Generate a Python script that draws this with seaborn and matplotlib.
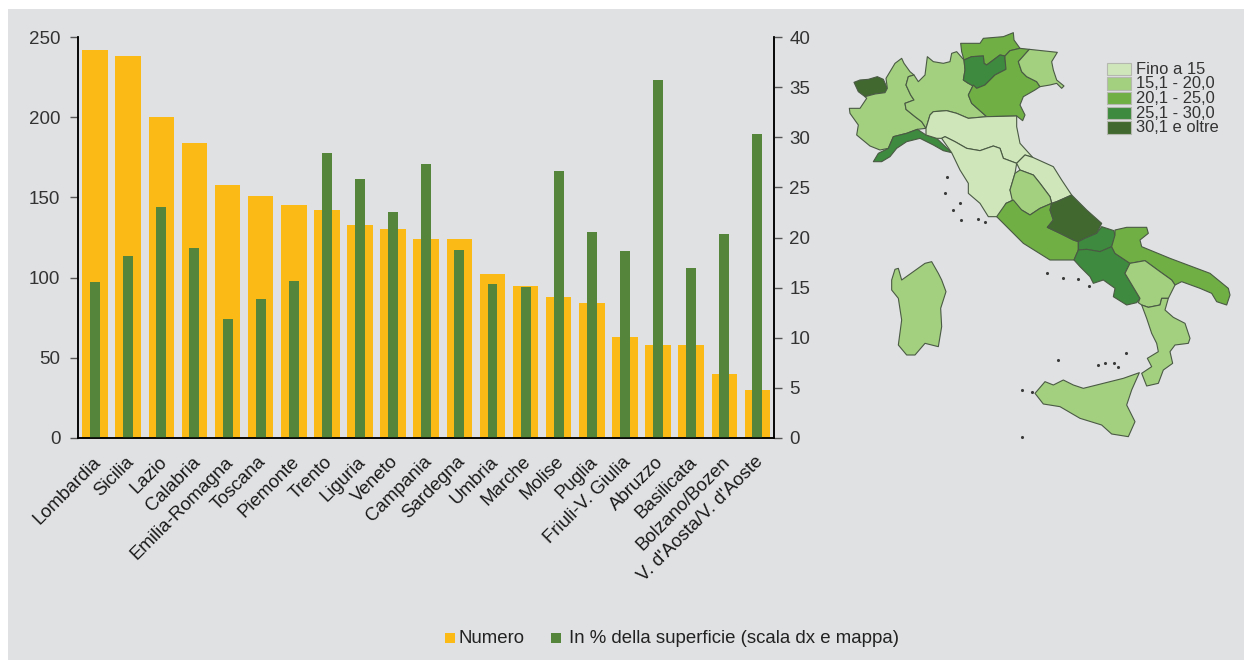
import matplotlib
matplotlib.use('Agg')
import matplotlib.pyplot as plt
from matplotlib.patches import Rectangle
from matplotlib.transforms import ScaledTranslation
import pandas as pd
import seaborn as sns

regions = ['Lombardia', 'Sicilia', 'Lazio', 'Calabria', 'Emilia-Romagna', 'Toscana', 'Piemonte',
           'Trento', 'Liguria', 'Veneto', 'Campania', 'Sardegna', 'Umbria', 'Marche', 'Molise',
           'Puglia', 'Friuli-V. Giulia', 'Abruzzo', 'Basilicata', 'Bolzano/Bozen',
           "V. d'Aosta/V. d'Aoste"]
numero = [242, 238, 200, 184, 158, 151, 145, 142, 133, 130, 124, 124, 102, 95, 88, 84, 63, 58, 58, 40, 30]
percentuale = [15.6, 18.2, 23.0, 19.0, 11.9, 13.9, 15.7, 28.4, 25.8, 22.5, 27.3, 18.8, 15.4, 15.1, 26.6,
               20.5, 18.7, 35.7, 17.0, 20.3, 30.3]
left_ticks = [0, 50, 100, 150, 200, 250]
right_ticks = [0, 5, 10, 15, 20, 25, 30, 35, 40]

legend_classes = ['Fino a 15', '15,1 - 20,0', '20,1 - 25,0', '25,1 - 30,0', '30,1 e oltre']
class_colors = ['#CFE6BA', '#A3D07F', '#6FAF44', '#3E8A3E', '#41692F']

# map outlines (x, y in px of the north / south crop)
north = {
    'aosta': (4, [(42,187),(60,180),(85,178),(112,170),(130,178),(142,205),(135,218),(105,222),(75,230),(55,215)]),
    'piemonte': (1, [(185,115),(192,130),(210,155),(222,165),(205,170),(198,195),(212,225),(222,240),(195,250),(198,268),
                     (225,290),(245,305),(258,325),(232,328),(200,340),(160,350),(145,385),(120,390),(90,378),(50,345),
                     (55,315),(30,280),(28,265),(60,265),(80,235),(75,230),(105,222),(135,218),(142,205),(138,175),(165,130)]),
    'lombardia': (1, [(222,165),(235,185),(255,165),(262,110),(280,125),(310,130),(330,125),(335,100),(350,95),(372,120),
                      (375,150),(370,180),(385,190),(400,195),(385,225),(395,250),(440,290),(385,295),(350,280),(320,272),
                      (280,275),(270,285),(258,325),(245,305),(225,290),(198,268),(195,250),(222,240),(212,225),(198,195),(205,170)]),
    'bolzano': (2, [(362,70),(420,70),(430,55),(490,50),(520,38),(522,60),(540,85),(510,92),(495,108),(480,105),(440,135),
                    (432,130),(430,108),(395,110),(372,120),(365,95)]),
    'trento': (3, [(372,120),(395,110),(430,108),(432,130),(440,135),(480,105),(495,108),(495,115),(498,148),(465,165),
                   (435,195),(410,205),(385,190),(370,180),(375,150)]),
    'veneto': (2, [(510,92),(540,85),(568,88),(535,125),(545,155),(560,170),(590,185),(600,200),(585,210),(550,230),(540,255),
                   (555,285),(548,302),(530,288),(440,290),(395,250),(385,225),(400,195),(410,205),(435,195),(465,165),
                   (498,148),(495,115),(495,108)]),
    'friuli': (1, [(568,88),(652,97),(635,125),(640,150),(650,180),(672,198),(665,205),(650,190),(630,195),(600,200),(590,185),
                   (560,170),(545,155),(535,125)]),
    'liguria': (3, [(100,425),(115,400),(145,385),(160,350),(200,340),(232,328),(258,345),(290,355),(335,398),(310,392),
                    (280,375),(240,355),(200,365),(170,385),(150,410),(125,425)]),
    'emilia': (0, [(258,325),(270,285),(280,275),(320,272),(350,280),(385,295),(440,290),(530,288),(530,320),(540,370),
                   (578,412),(555,405),(530,430),(490,415),(480,385),(460,378),(420,392),(380,385),(345,365),(315,350),
                   (305,355),(290,355),(258,345)]),
    'toscana': (0, [(305,355),(315,350),(345,365),(380,385),(420,392),(460,378),(480,385),(490,415),(530,430),(525,460),
                    (510,510),(520,540),(498,550),(480,590),(445,590),(420,550),(385,520),(385,490),(360,450),(335,398)]),
    'marche': (0, [(530,430),(555,405),(578,412),(640,440),(665,480),(695,525),(650,545),(635,550),(630,530),(600,490),
                   (580,465),(540,450)]),
    'umbria': (1, [(540,450),(580,465),(600,490),(630,530),(635,550),(600,565),(570,585),(545,570),(520,555),(510,510),(525,460)]),
    'lazio': (2, [(470,590),(498,550),(520,540),(545,570),(570,585),(600,565),(635,550),(630,570),(640,600),(622,622),(660,640),
                  (700,660),(715,665),(715,690),(702,720),(630,720),(550,670),(510,630)]),
    'abruzzo': (4, [(650,545),(695,525),(740,570),(785,610),(770,640),(735,655),(715,665),(700,660),(660,640),(622,622),
                    (640,600),(630,570),(635,550)]),
    'molise': (3, [(785,620),(822,632),(825,650),(815,680),(780,695),(740,688),(715,690),(715,665),(735,655),(770,640)]),
}
south = {
    'campania': (3, [(612,90),(625,60),(650,58),(690,65),(725,50),(735,70),(780,100),(765,130),(810,205),(800,218),(770,225),
                     (730,200),(735,175),(700,150),(670,160),(660,140),(630,110)]),
    'puglia': (2, [(735,15),(735,0),(770,-8),(830,-8),(835,10),(810,30),(815,50),(900,85),(1020,130),(1075,175),(1080,195),
                   (1070,225),(1040,215),(1025,190),(990,175),(935,155),(915,165),(905,150),(870,125),(825,92),(780,100),
                   (735,70),(725,50)]),
    'basilicata': (1, [(780,100),(825,92),(870,125),(905,150),(915,165),(895,205),(875,205),(870,225),(835,232),(815,225),
                       (805,218),(810,205),(765,130)]),
    'calabria': (1, [(815,225),(835,232),(870,225),(875,205),(895,205),(885,240),(910,262),(945,280),(960,325),(955,340),(915,345),
                     (900,365),(908,400),(880,420),(865,460),(830,468),(815,430),(845,410),(832,385),(865,365),(860,340),(845,310),(830,265)]),
    'sicilia': (1, [(495,490),(525,455),(550,465),(580,450),(610,465),(640,475),(700,460),(760,445),(808,428),(785,480),(770,525),
                    (795,575),(775,620),(725,612),(695,585),(630,565),(570,530),(520,522)]),
    'sardegna': (1, [(65,150),(75,118),(85,115),(95,150),(130,125),(165,100),(185,95),(205,130),(215,150),(228,185),(212,235),
                     (215,290),(205,350),(165,340),(135,375),(110,375),(85,345),(95,270),(85,205),(65,180)]),
}
islets_north = [(315,518),(360,548),(340,570),(362,600),(415,597),(436,607),(320,470)]
islets_south = [(530,130),(578,143),(625,148),(656,167),(565,390),(685,405),(705,400),(732,400),(745,410),(768,370),
                (457,480),(485,485),(455,620)]


def north_px(p):
    return 840 + p[0] / 3, 20 + p[1] / 3


def south_px(p):
    return 870 + p[0] / 3, 230 + p[1] / 3


sns.set_style('white')
plt.rcParams['font.family'] = ['Liberation Sans', 'DejaVu Sans']
ORANGE = '#FBBA16'
GREEN = '#55843B'
TEXT = '#222222'
W, H = 1244, 660

fig = plt.figure(figsize=(W / 100, H / 100), dpi=100, facecolor='white')
fig.add_artist(Rectangle((8 / W, 0), (W - 8) / W, 651 / H, transform=fig.transFigure,
                         facecolor='#E0E1E3', edgecolor='none', zorder=-5))

ax = fig.add_axes([78.5 / W, 1 - 438 / H, (774 - 78.5) / W, (438 - 37) / H])
ax.patch.set_alpha(0)
df = pd.DataFrame({'regione': regions, 'numero': numero, 'perc': percentuale})

sns.barplot(data=df, x='regione', y='numero', color=ORANGE, saturation=1, width=0.77, linewidth=0, ax=ax)
ax.set_xlim(-0.5, 20.5)
ax.set_ylim(0, 250)
ax.set_yticks(left_ticks)
ax.set_xlabel('')
ax.set_ylabel('')

# tick marks sit between the categories, the labels under the bars
ax.set_xticks([i - 0.5 for i in range(22)])
ax.set_xticklabels([])
ax.set_xticks(range(21), minor=True)
ax.set_xticklabels(regions, minor=True, rotation=45, ha='right', rotation_mode='anchor', fontsize=13.4, color='#1a1a1a')
ax.tick_params(axis='x', which='major', length=6, width=1, color='#808080', direction='out')
ax.tick_params(axis='x', which='minor', length=0, pad=11)
ax.tick_params(axis='y', length=6, width=1, color='#555555', labelsize=13.5, labelcolor='#333333', pad=7)
shift = ScaledTranslation(-3 / 100, 0, fig.dpi_scale_trans)
for lab in ax.get_xticklabels(minor=True):
    lab.set_transform(lab.get_transform() + shift)

ax2 = ax.twinx()
ax2.patch.set_alpha(0)
sns.barplot(data=df, x='regione', y='perc', color=GREEN, saturation=1, width=0.30, linewidth=0, ax=ax2)
ax2.set_xlim(-0.5, 20.5)
ax2.set_ylim(0, 40)
ax2.set_yticks(right_ticks)
ax2.set_ylabel('')
ax2.set_xlabel('')
ax2.tick_params(axis='y', length=6, width=1, color='#555555', labelsize=13.5, labelcolor='#333333', pad=5)

for a in (ax, ax2):
    a.spines['top'].set_visible(False)
    for side in ('left', 'right', 'bottom'):
        a.spines[side].set_visible(True)
        a.spines[side].set_color('black')
        a.spines[side].set_linewidth(1.1)

# map and bottom legend drawn on a full-figure axes in pixel units
map_ax = fig.add_axes([0, 0, 1, 1])
map_ax.set_xlim(0, W)
map_ax.set_ylim(H, 0)
map_ax.axis('off')
map_ax.patch.set_alpha(0)
for cls, pts in north.values():
    xs, ys = zip(*[north_px(p) for p in pts])
    map_ax.fill(xs, ys, facecolor=class_colors[cls], edgecolor='#4a5a44', linewidth=0.8, joinstyle='round')
for cls, pts in south.values():
    xs, ys = zip(*[south_px(p) for p in pts])
    map_ax.fill(xs, ys, facecolor=class_colors[cls], edgecolor='#4a5a44', linewidth=0.8, joinstyle='round')
xs, ys = zip(*[north_px(p) for p in islets_north] + [south_px(p) for p in islets_south])
map_ax.scatter(xs, ys, s=5, color='#3a3a3a', linewidths=0)

for i, (label, col) in enumerate(zip(legend_classes, class_colors)):
    y = 62.5 + i * 14.7
    map_ax.add_patch(Rectangle((1107, y), 24, 12.5, facecolor=col, edgecolor='#B5B8AE', linewidth=0.8))
    map_ax.text(1135.5, y + 6.5, label, fontsize=11.9, color='#333333', va='center', ha='left')

map_ax.add_patch(Rectangle((445, 633), 10, 10, facecolor=ORANGE, edgecolor='none'))
map_ax.text(458, 638.5, 'Numero', fontsize=13.4, color=TEXT, va='center', ha='left')
map_ax.add_patch(Rectangle((551, 633), 10, 10, facecolor=GREEN, edgecolor='none'))
map_ax.text(569, 638.5, 'In % della superficie (scala dx e mappa)', fontsize=13.4, color=TEXT, va='center', ha='left')

plt.savefig('out.png', dpi=100)
